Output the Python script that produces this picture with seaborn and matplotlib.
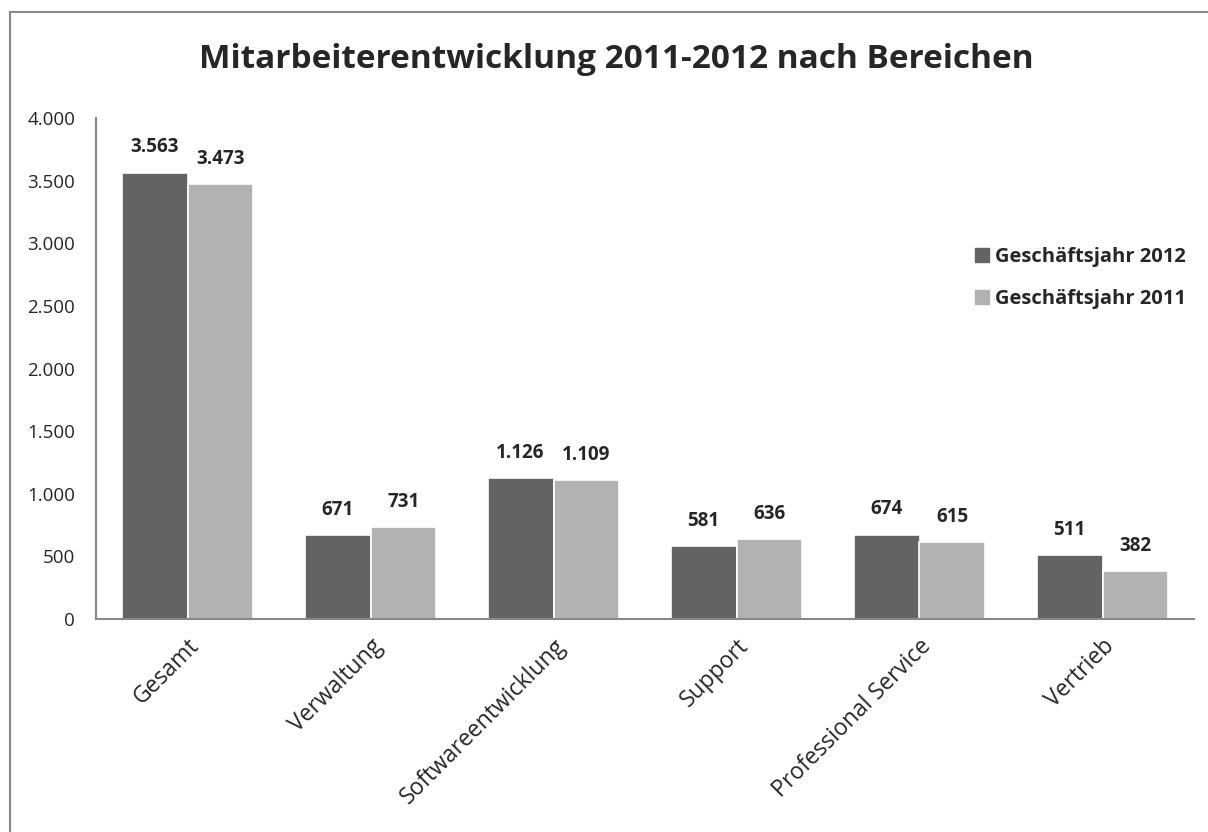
import matplotlib
matplotlib.use("Agg")
import matplotlib.pyplot as plt
import seaborn as sns
import pandas as pd
from matplotlib.patches import Rectangle
from matplotlib.lines import Line2D
from matplotlib.ticker import FuncFormatter

categories = ["Gesamt", "Verwaltung", "Softwareentwicklung", "Support", "Professional Service", "Vertrieb"]
values_2012 = [3563, 671, 1126, 581, 674, 511]
values_2011 = [3473, 731, 1109, 636, 615, 382]
series_names = ["Geschäftsjahr 2012", "Geschäftsjahr 2011"]
title = "Mitarbeiterentwicklung 2011-2012 nach Bereichen"

df = pd.DataFrame({
    "Bereich": categories * 2,
    "Jahr": [series_names[0]] * len(categories) + [series_names[1]] * len(categories),
    "Wert": values_2012 + values_2011,
})

sns.set_theme(style="white")
plt.rcParams["font.family"] = ["Open Sans", "DejaVu Sans"]

colors = ["#636363", "#b2b2b2"]
fig = plt.figure(figsize=(12.08, 8.32), dpi=100)
ax = fig.add_axes([96/1208, 1-619/832, (1194-96)/1208, (619-118)/832])

sns.barplot(data=df, x="Bereich", y="Wert", hue="Jahr", palette=colors, ax=ax,
            width=0.72, edgecolor="white", linewidth=1.2, saturation=1, legend=False)

ax.set_ylim(0, 4000)
ax.set_yticks(range(0, 4001, 500))
ax.yaxis.set_major_formatter(FuncFormatter(lambda v, p: f"{int(v):,}".replace(",", ".")))
ax.tick_params(axis="y", labelsize=13.5, length=0, pad=15)
ax.tick_params(axis="x", labelsize=16.5, length=0, pad=11)
ax.set_xticks(range(len(categories)))
ax.set_xticklabels(categories, rotation=45, ha="right", rotation_mode="anchor")
ax.set_xlabel("")
ax.set_ylabel("")
for s in ["top", "right"]:
    ax.spines[s].set_visible(False)
for s in ["left", "bottom"]:
    ax.spines[s].set_color("#888888")
    ax.spines[s].set_linewidth(1.5)

for cont in ax.containers:
    ax.bar_label(cont, labels=[f"{int(v):,}".replace(",", ".") for v in cont.datavalues],
                 padding=11, fontsize=13.5, fontweight="bold")

fig.text(616/1208, 1-60/832, title, ha="center", va="center", fontsize=24, fontweight="bold")

handles = [Line2D([0], [0], marker="s", color="none", markerfacecolor=c, markeredgecolor=c, markersize=10)
           for c in colors]
fig.legend(handles, series_names, loc="upper left", bbox_to_anchor=(962/1208, 1-239/832),
           frameon=False, prop={"weight": "bold", "size": 14.5}, handletextpad=0.05,
           labelspacing=1.1, handlelength=1.2, borderaxespad=0)

fig.add_artist(Rectangle((10/1208, -0.1), 1.2, 1.1-12/832, transform=fig.transFigure,
                         fill=False, edgecolor="#888888", linewidth=1.5, clip_on=False))

fig.savefig("out.png", dpi=100)
